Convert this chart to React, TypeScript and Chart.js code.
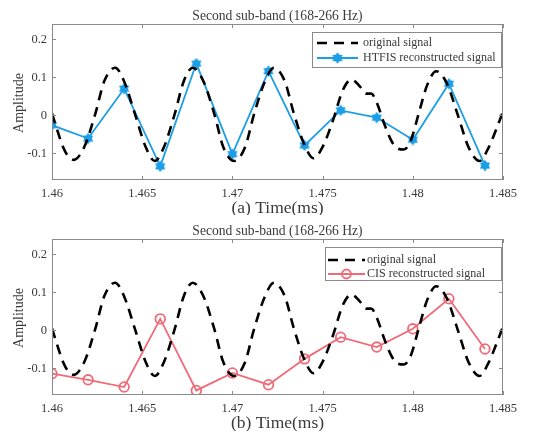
import React, { useEffect, useRef } from "react";
import { Chart, registerables } from "chart.js";
Chart.register(...registerables);

const origT = [1.46, 1.4603, 1.4606, 1.4609, 1.4612, 1.4618, 1.4624, 1.4629, 1.4635, 1.464, 1.4646, 1.4652, 1.4657, 1.4662, 1.4668, 1.4673, 1.4678, 1.4684, 1.469, 1.4695, 1.4701, 1.4707, 1.4712, 1.4718, 1.4723, 1.4729, 1.4734, 1.474, 1.4745, 1.475, 1.4756, 1.4761, 1.4766, 1.4771, 1.4774, 1.4777, 1.478, 1.4784, 1.4788, 1.4791, 1.4795, 1.4799, 1.4803, 1.4808, 1.4813, 1.4819, 1.4825, 1.4831, 1.4837, 1.4842, 1.4846, 1.485];
const origV = [0.005, -0.04, -0.082, -0.108, -0.117, -0.082, 0.004, 0.09, 0.125, 0.089, 0.003, -0.084, -0.12, -0.084, 0.003, 0.089, 0.125, 0.089, 0.003, -0.084, -0.12, -0.084, 0.003, 0.089, 0.125, 0.09, 0.006, -0.078, -0.113, -0.083, -0.01, 0.064, 0.094, 0.074, 0.057, 0.057, 0.034, -0.02, -0.066, -0.085, -0.09, -0.065, 0.0, 0.08, 0.116, 0.083, 0.0, -0.085, -0.12, -0.085, -0.04, 0.01];

const sampleT = [1.46, 1.462, 1.464, 1.466, 1.468, 1.47, 1.472, 1.474, 1.476, 1.478, 1.48, 1.482, 1.484];
const htfisV = [-0.026, -0.061, 0.07, -0.134, 0.136, -0.102, 0.116, -0.079, 0.013, -0.006, -0.064, 0.083, -0.132];
const cisV = [-0.114, -0.13, -0.149, 0.03, -0.158, -0.112, -0.143, -0.075, -0.018, -0.044, 0.004, 0.083, -0.049];

const xTicks = [1.46, 1.465, 1.47, 1.475, 1.48, 1.485];
const xTickLabels = ["1.46", "1.465", "1.47", "1.475", "1.48", "1.485"];
const yTicks = [-0.1, 0, 0.1, 0.2];
const yTickLabels = ["-0.1", "0", "0.1", "0.2"];

const titleText = "Second sub-band (168-266 Hz)";
const yTitle = "Amplitude";
const origLabel = "original signal";

const FONT = "'Liberation Serif', 'Times New Roman', serif";
const TEXT = "#3a3a3a";
const AXIS = "#8a8a8a";
const BLUE = "#1c9ee6";
const RED = "#f06a78";

function makeStar(color: string) {
  const c = document.createElement("canvas");
  c.width = 12;
  c.height = 12;
  const g = c.getContext("2d")!;
  g.fillStyle = color;
  g.beginPath();
  const cx = 6, cy = 6, R = 5.8, r = 3.8;
  for (let i = 0; i < 12; i++) {
    const a = -Math.PI / 2 + (i * Math.PI) / 6;
    const rr = i % 2 === 0 ? R : r;
    const px = cx + rr * Math.cos(a);
    const py = cy + rr * Math.sin(a);
    if (i === 0) g.moveTo(px, py);
    else g.lineTo(px, py);
  }
  g.closePath();
  g.fill();
  return c;
}

type Cfg = {
  height: number;
  xTitle: string;
  recLabel: string;
  recValues: number[];
  recColor: string;
  filled: boolean;
  legendBox: [number, number, number, number];
  legendRows: [number, number];
  sample: [number, number];
  textX: number;
};

function makeChart(canvas: HTMLCanvasElement, cfg: Cfg) {
  const star = makeStar(cfg.recColor);
  const decor = {
    id: "decor",
    afterDatasetsDraw(chart: any) {
      const ctx = chart.ctx;
      const a = chart.chartArea;
      const xs = chart.scales.x;
      const ys = chart.scales.y;
      ctx.save();
      ctx.strokeStyle = AXIS;
      ctx.lineWidth = 1;
      ctx.strokeRect(a.left + 0.5, a.top + 0.5, a.right - a.left - 1, a.bottom - a.top - 1);
      ctx.beginPath();
      for (const t of xTicks) {
        const px = Math.round(xs.getPixelForValue(t)) + 0.5;
        ctx.moveTo(px, a.bottom);
        ctx.lineTo(px, a.bottom - 4);
        ctx.moveTo(px, a.top);
        ctx.lineTo(px, a.top + 4);
      }
      for (const t of yTicks) {
        const py = Math.round(ys.getPixelForValue(t)) + 0.5;
        ctx.moveTo(a.left, py);
        ctx.lineTo(a.left + 4, py);
        ctx.moveTo(a.right, py);
        ctx.lineTo(a.right - 4, py);
      }
      ctx.stroke();
      ctx.fillStyle = TEXT;
      ctx.textAlign = "center";
      ctx.textBaseline = "middle";
      ctx.font = `13.6px ${FONT}`;
      const cx = (a.left + a.right) / 2;
      ctx.fillText(titleText, cx, 16);
      ctx.font = `17.5px ${FONT}`;
      ctx.fillText(cfg.xTitle, cx, a.bottom + 28);
      ctx.save();
      ctx.translate(19, (a.top + a.bottom) / 2 + 1);
      ctx.rotate(-Math.PI / 2);
      ctx.font = `14px ${FONT}`;
      ctx.fillText(yTitle, 0, 0);
      ctx.restore();
      const [lx0, ly0, lx1, ly1] = cfg.legendBox;
      ctx.fillStyle = "#ffffff";
      ctx.fillRect(lx0, ly0, lx1 - lx0, ly1 - ly0);
      ctx.strokeStyle = AXIS;
      ctx.strokeRect(lx0 + 0.5, ly0 + 0.5, lx1 - lx0 - 1, ly1 - ly0 - 1);
      const [s0, s1] = cfg.sample;
      const [r0, r1] = cfg.legendRows;
      ctx.strokeStyle = "#000000";
      ctx.lineWidth = 2.6;
      ctx.setLineDash([10, 7]);
      ctx.beginPath();
      ctx.moveTo(s0, r0);
      ctx.lineTo(s1, r0);
      ctx.stroke();
      ctx.setLineDash([]);
      ctx.strokeStyle = cfg.recColor;
      ctx.lineWidth = 1.8;
      ctx.beginPath();
      ctx.moveTo(s0, r1);
      ctx.lineTo(s1, r1);
      ctx.stroke();
      const mx = (s0 + s1) / 2;
      if (cfg.filled) {
        ctx.drawImage(star, mx - 6, r1 - 6);
      } else {
        ctx.beginPath();
        ctx.arc(mx, r1, 4.5, 0, Math.PI * 2);
        ctx.stroke();
      }
      ctx.fillStyle = TEXT;
      ctx.textAlign = "left";
      ctx.font = `12px ${FONT}`;
      ctx.fillText(origLabel, cfg.textX, r0);
      ctx.fillText(cfg.recLabel, cfg.textX, r1);
      ctx.restore();
    },
  };

  return new Chart(canvas, {
    type: "line",
    data: {
      datasets: [
        {
          label: origLabel,
          data: origT.map((t, i) => ({ x: t, y: origV[i] })),
          borderColor: "#000000",
          borderWidth: 2.6,
          borderDash: [10, 7],
          pointRadius: 0,
          cubicInterpolationMode: "monotone",
          fill: false,
        },
        {
          label: cfg.recLabel,
          data: sampleT.map((t, i) => ({ x: t, y: cfg.recValues[i] })),
          borderColor: cfg.recColor,
          backgroundColor: cfg.filled ? cfg.recColor : "rgba(0,0,0,0)",
          borderWidth: 1.8,
          pointStyle: cfg.filled ? (star as any) : "circle",
          pointRadius: cfg.filled ? 5 : 4.8,
          pointBorderWidth: 1.8,
          tension: 0,
          fill: false,
        },
      ],
    },
    options: {
      responsive: false,
      animation: false,
      events: [],
      layout: { padding: { left: 0, right: 41, top: 24, bottom: 0 } },
      plugins: { legend: { display: false }, title: { display: false }, tooltip: { enabled: false } },
      scales: {
        x: {
          type: "linear",
          min: 1.46,
          max: 1.485,
          afterBuildTicks: (s: any) => {
            s.ticks = xTicks.map((v) => ({ value: v }));
          },
          afterFit: (s: any) => {
            s.height = cfg.height - 180;
          },
          ticks: {
            color: TEXT,
            font: { family: FONT, size: 12.5 },
            padding: 6,
            maxRotation: 0,
            callback: (v: any) => {
              const i = xTicks.findIndex((t) => Math.abs(t - v) < 1e-9);
              return i >= 0 ? xTickLabels[i] : "";
            },
          },
          grid: { display: false, drawTicks: false },
          border: { display: false },
        },
        y: {
          type: "linear",
          min: -0.17,
          max: 0.24,
          afterBuildTicks: (s: any) => {
            s.ticks = yTicks.map((v) => ({ value: v }));
          },
          afterFit: (s: any) => {
            s.width = 52;
          },
          ticks: {
            color: TEXT,
            font: { family: FONT, size: 12.5 },
            padding: 5,
            callback: (v: any) => {
              const i = yTicks.findIndex((t) => Math.abs(t - v) < 1e-9);
              return i >= 0 ? yTickLabels[i] : "";
            },
          },
          grid: { display: false, drawTicks: false },
          border: { display: false },
        },
      },
    },
    plugins: [decor],
  } as any);
}

export default function App() {
  const topRef = useRef<HTMLCanvasElement>(null);
  const botRef = useRef<HTMLCanvasElement>(null);
  useEffect(() => {
    const c1 = makeChart(topRef.current!, {
      height: 215,
      xTitle: "(a) Time(ms)",
      recLabel: "HTFIS reconstructed signal",
      recValues: htfisV,
      recColor: BLUE,
      filled: true,
      legendBox: [312, 32, 502, 68],
      legendRows: [43, 58],
      sample: [317, 358],
      textX: 363,
    });
    const c2 = makeChart(botRef.current!, {
      height: 216,
      xTitle: "(b) Time(ms)",
      recLabel: "CIS reconstructed signal",
      recValues: cisV,
      recColor: RED,
      filled: false,
      legendBox: [325, 32, 502, 66],
      legendRows: [45, 59],
      sample: [328, 365],
      textX: 367,
    });
    return () => {
      c1.destroy();
      c2.destroy();
    };
  }, []);
  return (
    <div style={{ position: "absolute", left: 0, top: 0, width: 544, height: 431, background: "#fff" }}>
      <canvas ref={topRef} width={544} height={215} style={{ display: "block", width: 544, height: 215 }} />
      <canvas ref={botRef} width={544} height={216} style={{ display: "block", width: 544, height: 216 }} />
    </div>
  );
}
